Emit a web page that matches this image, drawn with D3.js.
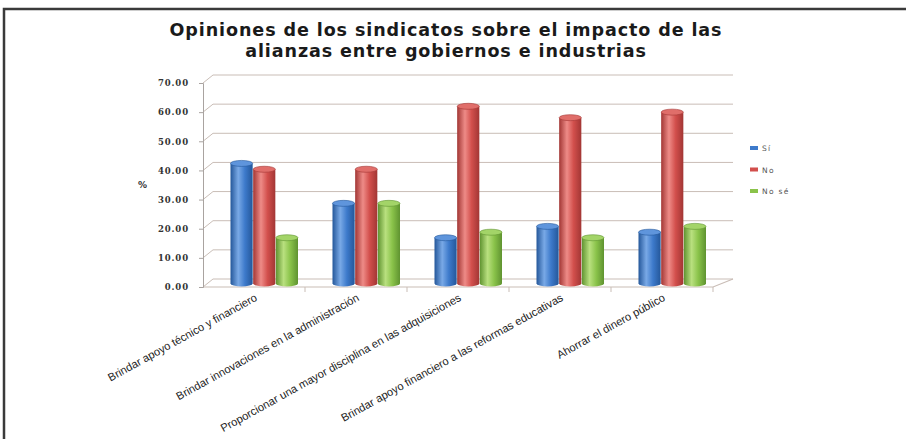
<!DOCTYPE html>
<html>
<head>
<meta charset="utf-8">
<script src="https://cdn.jsdelivr.net/npm/d3@7"></script>
<style>
  html, body { margin: 0; padding: 0; background: #fff; }
  svg { display: block; }
</style>
</head>
<body>
<svg id="chart" width="906" height="439"></svg>
<script>
// Survey answers (%) per kind of alliance impact
const categories = [
  "Brindar apoyo técnico y financiero",
  "Brindar innovaciones en la administración",
  "Proporcionar una mayor disciplina en las adquisiciones",
  "Brindar apoyo financiero a las reformas educativas",
  "Ahorrar el dinero público"
];
const seriesNames = ["Sí", "No", "No sé"];
const si   = [41.2, 27.5, 15.7, 19.6, 17.6];
const no   = [39.2, 39.2, 60.8, 56.9, 58.8];
const nose = [15.7, 27.5, 17.6, 15.7, 19.6];
const yTicks = [0, 10, 20, 30, 40, 50, 60, 70];
const titleLines = ["Opiniones de los sindicatos sobre el impacto de las",
                    "alianzas entre gobiernos e industrias"];

const svg = d3.select("#chart");
const colors = [
  { base: "#3d7acb", light: "#79a9e6", dark: "#24579a", top: "#5f95dc" },
  { base: "#d24f4c", light: "#ee8b87", dark: "#a23634", top: "#e06e6a" },
  { base: "#8ac34a", light: "#b9e07f", dark: "#5f9330", top: "#a3d468" }
];

// Plot geometry (pseudo-3D: front plane + depth offset)
const x0 = 203, x1 = 713;
const depth = { dx: 20, dy: -8 };
const wallDx = 10;
const y = d3.scaleLinear().domain([0, 70]).range([287, 83]);
const band = d3.scaleBand().domain(categories).range([x0, x1]);
const sub = d3.scaleBand().domain(seriesNames).range([0, 68]);
const gridColor = "#c9bdb6";

// Outer frame
svg.append("path")
  .attr("d", "M4,439 V9 H906")
  .attr("fill", "none").attr("stroke", "#3a3a3a").attr("stroke-width", 2.5);

// Title: sized (plus a little tracking) so the first line spans the chart width
const title = svg.append("g")
  .attr("font-family", "'DejaVu Sans', sans-serif")
  .attr("font-weight", "bold").attr("fill", "#1a1a1a").attr("text-anchor", "middle")
  .attr("font-size", 16);
const t1 = title.append("text").attr("x", 446).attr("y", 36).text(titleLines[0]);
const fs = 16 * 552 / t1.node().getComputedTextLength() * 0.92;
title.attr("font-size", fs);
const ls = (552 - t1.node().getComputedTextLength()) / (titleLines[0].length - 1);
title.attr("letter-spacing", ls);
title.append("text").attr("x", 446).attr("y", 57).text(titleLines[1]);

const grid = svg.append("g");
// back wall gridlines and left wall diagonals
yTicks.forEach(v => {
  grid.append("line")
    .attr("x1", x0 + wallDx).attr("x2", x1 + depth.dx)
    .attr("y1", y(v) + depth.dy).attr("y2", y(v) + depth.dy)
    .attr("stroke", gridColor).attr("stroke-width", 1);
  grid.append("line")
    .attr("x1", x0).attr("y1", y(v))
    .attr("x2", x0 + wallDx).attr("y2", y(v) + depth.dy)
    .attr("stroke", gridColor).attr("stroke-width", 1);
});
// floor outline
grid.append("path")
  .attr("d", `M${x0},${y(0)} H${x1} L${x1 + depth.dx},${y(0) + depth.dy}`)
  .attr("fill", "none").attr("stroke", gridColor).attr("stroke-width", 1.2);
// category ticks
band.domain().forEach(c => {
  grid.append("line")
    .attr("x1", band(c) + band.bandwidth()).attr("x2", band(c) + band.bandwidth())
    .attr("y1", y(0)).attr("y2", y(0) + 5)
    .attr("stroke", gridColor);
});

// Value axis
const yAxis = d3.axisLeft(y).tickValues(yTicks).tickSize(4).tickPadding(10)
  .tickFormat(d3.format(".2f"));
const ax = svg.append("g").attr("transform", `translate(${x0},0)`).call(yAxis);
ax.select(".domain").attr("stroke", "#a9a3a0");
ax.selectAll(".tick line").attr("stroke", "#a9a3a0");
ax.selectAll(".tick text")
  .attr("font-family", "'DejaVu Serif', serif")
  .attr("font-weight", "bold").attr("font-size", 8.5)
  .attr("letter-spacing", 0.9).attr("fill", "#333");

svg.append("text").attr("x", 138).attr("y", 188)
  .attr("font-family", "'DejaVu Sans', sans-serif").attr("font-weight", "bold")
  .attr("font-size", 9).attr("fill", "#333").text("%");

// Gradients for the cylinders
const defs = svg.append("defs");
colors.forEach((c, i) => {
  const g = defs.append("linearGradient").attr("id", "cyl" + i)
    .attr("x1", "0%").attr("x2", "100%").attr("y1", "0%").attr("y2", "0%");
  g.append("stop").attr("offset", "0%").attr("stop-color", c.dark);
  g.append("stop").attr("offset", "35%").attr("stop-color", c.light);
  g.append("stop").attr("offset", "65%").attr("stop-color", c.base);
  g.append("stop").attr("offset", "100%").attr("stop-color", c.dark);
});

// Bars (cylinders)
const series = [si, no, nose];
const baseShift = -3.5, groupShift = band.bandwidth() / 2 - 34 + 10.5;
const barsG = svg.append("g");
categories.forEach((c, ci) => {
  series.forEach((vals, k) => {
    const v = vals[ci];
    const bx = band(c) + groupShift + sub(seriesNames[k]);
    const w = sub.bandwidth() - 0.5;
    const rx = w / 2, ry = 3;
    const yt = y(v) + baseShift, yb = y(0) + baseShift;
    const g = barsG.append("g");
    g.append("path")
      .attr("d", `M${bx},${yt} V${yb} A${rx},${ry} 0 0 0 ${bx + w},${yb} V${yt} Z`)
      .attr("fill", `url(#cyl${k})`);
    g.append("ellipse")
      .attr("cx", bx + rx).attr("cy", yt).attr("rx", rx).attr("ry", ry)
      .attr("fill", colors[k].top).attr("stroke", colors[k].dark).attr("stroke-width", 0.6);
  });
});

// Category labels
svg.append("g").selectAll("text").data(categories).join("text")
  .attr("transform", d => `translate(${band(d) + band.bandwidth() / 2 + 4},${y(0) + 13}) rotate(-29)`)
  .attr("text-anchor", "end")
  .attr("font-family", "'Liberation Sans', Arial, sans-serif")
  .attr("font-size", 11.2).attr("fill", "#222")
  .text(d => d);

// Legend
const leg = svg.append("g").attr("transform", "translate(750,146)");
seriesNames.forEach((n, i) => {
  leg.append("rect").attr("x", 0).attr("y", i * 21.5).attr("width", 8).attr("height", 4)
    .attr("fill", colors[i].base);
  leg.append("text").attr("x", 12).attr("y", i * 21.5 + 5)
    .attr("font-family", "'DejaVu Sans', sans-serif").attr("font-size", 7.5)
    .attr("letter-spacing", 1.3).attr("fill", "#555").text(n);
});
</script>
</body>
</html>
